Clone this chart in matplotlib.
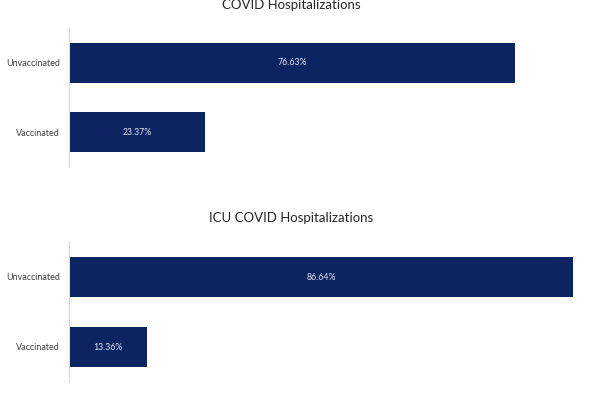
import matplotlib.pyplot as plt

plt.rcParams['font.family'] = ['Lato', 'DejaVu Sans']

# data
groups = ["Vaccinated", "Unvaccinated"]
hosp_pct = [23.37, 76.63]
icu_pct = [13.36, 86.64]
titles = ["COVID Hospitalizations", "ICU COVID Hospitalizations"]

bar_color = "#0c2461"

fig = plt.figure(figsize=(5.92, 3.96), dpi=100)
W, H = 592, 396

# axes boxes in pixels: (left, top, bottom), plus title centre y
boxes = [(69, 28, 167, 5), (69, 242, 382, 218)]
xmax = 90
width_px = 5.82 * xmax

for (left, top, bottom, ty), vals, title in zip(boxes, [hosp_pct, icu_pct], titles):
    ax = fig.add_axes([left / W, 1 - bottom / H, width_px / W, (bottom - top) / H])
    bars = ax.barh(groups, vals, height=0.57, color=bar_color)
    ax.set_xlim(0, xmax)
    ax.set_ylim(-0.5, 1.5)
    for b, v in zip(bars, vals):
        ax.text(b.get_width() / 2, b.get_y() + b.get_height() / 2, f"{v:.2f}%",
                ha="center", va="center", color="#dfe6f5", fontsize=6.3)
    for s in ["top", "right", "bottom"]:
        ax.spines[s].set_visible(False)
    ax.spines["left"].set_color("#d9d9d9")
    ax.spines["left"].set_linewidth(0.8)
    ax.set_xticks([])
    ax.tick_params(axis="y", length=0, pad=6.5, labelsize=6.5, labelcolor="#404040")
    fig.text(291 / W, 1 - ty / H, title, fontsize=9.5, color="#262626",
             ha="center", va="center")

plt.savefig("out.png", dpi=100)
